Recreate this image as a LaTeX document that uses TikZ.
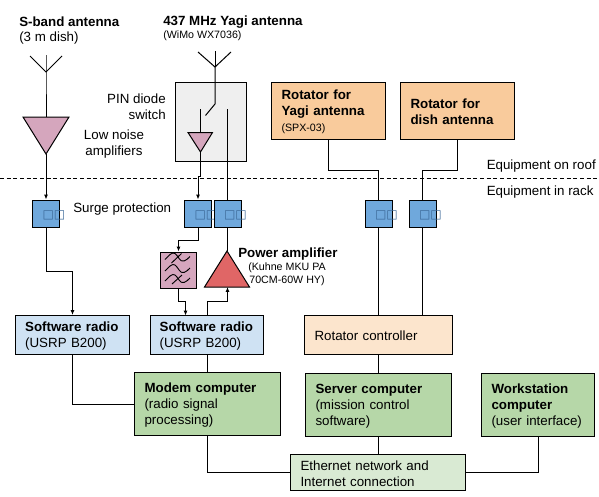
\documentclass[tikz,border=0pt]{standalone}
\usepackage{fontspec}
\setmainfont{Liberation Sans}
\newfontfamily\tofufont{DejaVu Sans}
\usetikzlibrary{arrows.meta}
\definecolor{roofblue}{HTML}{6FA8DC}
\definecolor{markblue}{HTML}{3D6A99}
\definecolor{radioblue}{HTML}{CFE2F3}
\definecolor{rotorange}{HTML}{F9CB9C}
\definecolor{ctrlorange}{HTML}{FCE5CD}
\definecolor{pcgreen}{HTML}{B6D7A8}
\definecolor{netgreen}{HTML}{D9EAD3}
\definecolor{lnapink}{HTML}{D5A6BD}
\definecolor{pared}{HTML}{E06666}
\definecolor{switchgray}{HTML}{EFEFEF}
\newcommand{\surgemark}{\hspace*{7.6pt}{\tofufont\fontsize{9}{9}\selectfont\textcolor{markblue}{□□}}}
\newcommand{\smalltext}{\fontsize{8}{11}\selectfont}
\tikzset{
  wire/.style={line width=0.75pt},
  feed/.style={wire,-{Latex[length=3.6pt,width=3pt]}},
  amp/.style={wire,draw=black,line join=miter},
  label/.style={font=\fontsize{10}{12}\selectfont,inner sep=0pt,align=left,anchor=west,yshift=-0.75pt},
  plainbox/.style={draw=black,wire},
  box/.style={plainbox,font=\fontsize{10}{12}\selectfont,align=left,inner ysep=0pt,inner xsep=7.5pt,execute at begin node={\rule{0pt}{8.8pt}}},
  surgebox/.style={box,fill=roofblue,minimum height=20.25pt,text width=20.25pt,inner xsep=0pt},
  radiobox/.style={box,fill=radioblue,minimum height=28.9pt,text width=71pt,inner xsep=7.1pt},
  rotatorbox/.style={box,fill=rotorange,minimum height=42.75pt,text width=70.5pt},
  pcbox/.style={box,fill=pcgreen,minimum height=47pt}
}
\begin{document}
\begin{tikzpicture}[x=0.75pt,y=-0.75pt]
  \useasboundingbox (0,0) rectangle (599,496);
  % gray switch housing goes first
  \node[plainbox,fill=switchgray,minimum width=53.25pt,minimum height=59.25pt] (switchbox) at (211,122) {};
  % boxes
  \node[surgebox] (surgeA) at (46,213.5) {\surgemark};
  \node[surgebox] (surgeB) at (198,213.5) {\surgemark};
  \node[surgebox] (surgeC) at (227.5,213.5) {\surgemark};
  \node[surgebox] (surgeD) at (378.5,213.5) {\surgemark};
  \node[surgebox] (surgeE) at (422.5,213.5) {\surgemark};
  \node[plainbox,fill=lnapink,minimum width=27pt,minimum height=27pt] (filter) at (178.5,270) {};
  \node[radiobox] (radioA) at (72.5,334.75) {\textbf{Software radio}\\(USRP B200)};
  \node[radiobox] (radioB) at (207,334.75) {\textbf{Software radio}\\(USRP B200)};
  \node[rotatorbox] (rotorA) at (328.5,111) {\textbf{Rotator for}\\\textbf{Yagi antenna}\\{\smalltext (SPX-03)}};
  \node[rotatorbox] (rotorB) at (457.5,111) {\textbf{Rotator for}\\\textbf{dish antenna}};
  \node[box,fill=ctrlorange,minimum height=28.9pt,text width=96pt] (control) at (378.5,334.75) {Rotator controller};
  \node[pcbox,text width=94.5pt] (modem) at (207.5,404.25) {\textbf{Modem computer}\\(radio signal\\processing)};
  \node[pcbox,text width=94.5pt] (server) at (378.5,404.75) {\textbf{Server computer}\\(mission control\\software)};
  \node[pcbox,text width=69.75pt] (station) at (538,404.75) {\textbf{Workstation}\\\textbf{computer}\\(user interface)};
  \node[box,fill=netgreen,minimum height=27pt,text width=116.25pt] (network) at (378,472.5) {Ethernet network and\\Internet connection};
  % amplifier shapes
  \draw[amp,fill=lnapink] (23,117)--(69,117)--(46,154)--cycle;
  \draw[amp,fill=lnapink] (188,132.5)--(212.5,132.5)--(200.5,152)--cycle;
  \draw[amp,fill=pared] (204.5,287)--(249.5,287)--(227,251)--cycle;
  \coordinate (lnaAin) at (46,117);
  \coordinate (lnaAout) at (46,154);
  \coordinate (lnaBin) at (200.5,132.5);
  \coordinate (lnaBout) at (200.5,152);
  \coordinate (paTop) at (227.5,251);
  \coordinate (paBottom) at (227.5,287);
  % antennas
  \coordinate (dishTip) at (46,72);
  \coordinate (yagiTip) at (215,67);
  \draw[wire] (30,56)--(dishTip)--(62,56);
  \draw[wire] (46,55)--(dishTip)--(lnaAin);
  \draw[wire] (198,52)--(yagiTip)--(231,52);
  \draw[wire] (215,51)--(yagiTip);
  % filter symbol
  \begin{scope}[line width=0.7pt]
    \foreach \rowy in {257.5,269,279}{
      \draw (165,\rowy+2) .. controls (169,\rowy-2) and (172,\rowy-6) .. (175,\rowy-4)
        .. controls (178,\rowy-2) and (180,\rowy+5) .. (184,\rowy+3.5)
        .. controls (186,\rowy+3) and (188,\rowy+1) .. (190,\rowy-1);
    }
    \draw (171.5,263) -- (181.5,253.5);
    \draw (172,284) -- (182,275);
  \end{scope}
  % switch
  \draw[wire] (yagiTip) -- (215,104) -- (205.5,115.5);
  \coordinate (switchRx) at (200.5,109);
  \coordinate (switchTx) at (227.5,109);
  \draw[wire] (switchRx) -- (lnaBin);
  \draw[wire] (switchTx) -- (surgeC.north);
  % receive chains
  \draw[feed] (lnaAout) -- (surgeA.north);
  \draw[feed] (surgeA.south) -- (46,271) -| (radioA.north);
  \draw[feed] (lnaBout) -- (200.5,176) -| (surgeB.north);
  \draw[feed] (surgeB.south) -- (198,240) -| (filter.north);
  \coordinate (radioBin) at (185.5,315.5);
  \coordinate (radioBout) at (207.5,315.5);
  \draw[feed] (filter.south) -- (178.5,301) -| (radioBin);
  % transmit chain
  \draw[wire] (surgeC.south) -- (paTop);
  \draw[feed] (radioBout) -- (207.5,301) -| (paBottom);
  % computers
  \draw[wire] (radioB.south) -- (radioB.south |- modem.north);
  \draw[wire] (radioA.south) |- (modem.west);
  \draw[wire] (modem.south) |- (network.west);
  \draw[wire] (server.south) -- (server.south |- network.north);
  \draw[wire] (station.south) |- (network.east);
  % rotators
  \draw[wire] (rotorA.south) -- (328.5,170) -| (surgeD.north);
  \draw[wire] (rotorB.south) -- (457.5,170) -| (surgeE.north);
  \draw[wire] (surgeD.south) -- (surgeD.south |- control.north);
  \draw[wire] (surgeE.south) -- (surgeE.south |- control.north);
  \draw[wire] (control.south) -- (server.north);
  % roof line
  \coordinate (roofL) at (0,178.5);
  \coordinate (roofR) at (599,178.5);
  \draw[wire,dash pattern=on 3pt off 2pt] (roofL) -- (roofR);
  % labels
  \node[label] (dishname) at (19,21) {\textbf{S-band antenna}};
  \node[label] (dishtype) at (19,37) {(3 m dish)};
  \node[label] (yaginame) at (163,21) {\textbf{437 MHz Yagi antenna}};
  \node[label] (yagitype) at (163,35) {\smalltext (WiMo WX7036)};
  \node[label,align=right,anchor=east] (pinlabel) at (166,106) {PIN diode\\switch};
  \node[label,align=center,anchor=center] (lnalabel) at (114,143) {Low noise\\amplifiers};
  \node[label] (surgelabel) at (73,208) {Surge protection};
  \node[label] (roofup) at (486.5,165) {Equipment on roof};
  \node[label] (roofdown) at (486.5,191) {Equipment in rack};
  \node[label] (paname) at (238,253) {\textbf{Power amplifier}};
  \node[label,align=center,anchor=center,font=\fontsize{8}{9.8}\selectfont] (patype) at (287,273.5) {(Kuhne MKU PA\\70CM-60W HY)};
\end{tikzpicture}
\end{document}
